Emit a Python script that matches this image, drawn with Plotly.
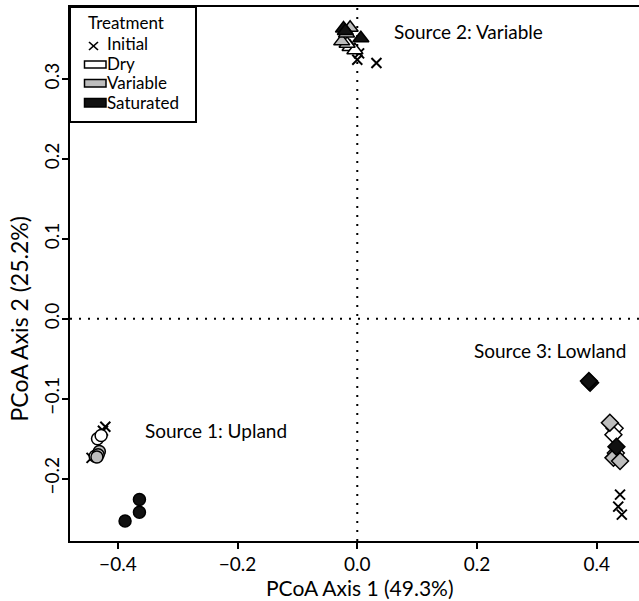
import plotly.graph_objects as go

# ---------------- data ----------------
treatments = ["Initial", "Dry", "Variable", "Saturated"]
sources = ["Source 1: Upland", "Source 2: Variable", "Source 3: Lowland"]

# Initial (x markers)
initial_x = [-0.421, -0.425, -0.444, 0.000, 0.032, 0.003, 0.439, 0.436, 0.442]
initial_y = [-0.135, -0.140, -0.174, 0.324, 0.320, 0.332, -0.220, -0.235, -0.245]
initial_src = [1, 1, 1, 2, 2, 2, 3, 3, 3]

# Dry (white fill)
dry_x = [-0.434, -0.428, -0.438, -0.012, -0.004, -0.017, 0.430, 0.428, 0.432]
dry_y = [-0.150, -0.146, -0.172, 0.340, 0.336, 0.344, -0.137, -0.145, -0.168]
dry_src = [1, 1, 1, 2, 2, 2, 3, 3, 3]

# Variable (grey fill)
var_x = [-0.431, -0.433, -0.435, -0.026, -0.012, -0.018, 0.422, 0.428, 0.439]
var_y = [-0.166, -0.170, -0.173, 0.347, 0.364, 0.357, -0.130, -0.174, -0.178]
var_src = [1, 1, 1, 2, 2, 2, 3, 3, 3]

# Saturated (black fill)
sat_x = [-0.364, -0.364, -0.388, -0.023, 0.006, -0.020, 0.389, 0.387, 0.433]
sat_y = [-0.226, -0.242, -0.253, 0.363, 0.351, 0.360, -0.080, -0.078, -0.160]
sat_src = [1, 1, 1, 2, 2, 2, 3, 3, 3]

x_ticks = [-0.4, -0.2, 0.0, 0.2, 0.4]
y_ticks = [-0.2, -0.1, 0.0, 0.1, 0.2, 0.3]

x_title = "PCoA Axis 1 (49.3%)"
y_title = "PCoA Axis 2 (25.2%)"
legend_title = "Treatment"

src_symbol = {1: "circle", 2: "triangle-up", 3: "diamond"}
src_size = {1: 12, 2: 14, 3: 13}
fill = {"Dry": "#ffffff", "Variable": "#bdbdbd", "Saturated": "#111111"}

FONT = "Lato, 'Liberation Sans', sans-serif"
FS = 19
LEG_FS = 17

XR = [-0.48, 0.4707]
YR = [-0.278, 0.39]

fig = go.Figure()

# Initial crosses
fig.add_trace(go.Scatter(
    x=initial_x, y=initial_y, mode="markers", showlegend=False,
    marker=dict(symbol="x-thin-open", size=10, color="black", opacity=1,
                line=dict(color="black", width=2)),
))

for name, xs, ys, ss in [("Dry", dry_x, dry_y, dry_src),
                         ("Variable", var_x, var_y, var_src),
                         ("Saturated", sat_x, sat_y, sat_src)]:
    fig.add_trace(go.Scatter(
        x=xs, y=ys, mode="markers", showlegend=False,
        marker=dict(symbol=[src_symbol[s] for s in ss],
                    size=[src_size[s] for s in ss],
                    color=fill[name], opacity=1,
                    line=dict(color="black", width=1.5)),
    ))

# plot-area geometry in pixels
L, R, T, B = 70, 639, 7, 541
W, H = R - L, B - T


def px(xp):
    return (xp - L) / W


def py(yp):
    return (B - yp) / H


shapes = []
# dotted reference lines
shapes.append(dict(type="line", xref="x", yref="paper", x0=0, x1=0, y0=0, y1=1,
                   line=dict(color="black", width=2, dash="2px,7px"), layer="below"))
shapes.append(dict(type="line", xref="paper", yref="y", x0=0, x1=1, y0=0, y1=0,
                   line=dict(color="black", width=2, dash="2px,7px"), layer="below"))

# legend box
shapes.append(dict(type="rect", xref="paper", yref="paper",
                   x0=px(70), x1=px(196), y0=py(122), y1=py(7),
                   line=dict(color="black", width=2), fillcolor="white"))
# legend cross
shapes.append(dict(type="line", xref="paper", yref="paper",
                   x0=px(89), x1=px(98), y0=py(42), y1=py(50),
                   line=dict(color="black", width=1.6)))
shapes.append(dict(type="line", xref="paper", yref="paper",
                   x0=px(89), x1=px(98), y0=py(50), y1=py(42),
                   line=dict(color="black", width=1.6)))
# legend swatches
for (y0, y1), name in zip([(61, 68), (79.5, 87), (98.5, 107)], ["Dry", "Variable", "Saturated"]):
    shapes.append(dict(type="rect", xref="paper", yref="paper",
                       x0=px(84.5), x1=px(106), y0=py(y1), y1=py(y0),
                       line=dict(color="black", width=1.5), fillcolor=fill[name]))

annotations = []
annotations.append(dict(xref="paper", yref="paper", x=px(86), y=py(22.5), text=legend_title,
                        xanchor="left", yanchor="middle", showarrow=False,
                        font=dict(family=FONT, size=LEG_FS, color="black")))
for name, yc in zip(treatments, [43, 63, 82.5, 102]):
    annotations.append(dict(xref="paper", yref="paper", x=px(105), y=py(yc), text=name,
                            xanchor="left", yanchor="middle", showarrow=False,
                            font=dict(family=FONT, size=LEG_FS, color="black")))

# source labels (placed in data units)
for text, xp, yp in [(sources[0], 143, 430), (sources[1], 392, 31), (sources[2], 472, 350)]:
    annotations.append(dict(xref="x", yref="y",
                            x=XR[0] + (xp - L) / W * (XR[1] - XR[0]),
                            y=YR[0] + (B - yp) / H * (YR[1] - YR[0]),
                            text=text, xanchor="left", yanchor="middle", showarrow=False,
                            font=dict(family=FONT, size=FS, color="black")))

# axis titles
annotations.append(dict(xref="paper", yref="paper", x=px(360), y=py(587), text=x_title,
                        xanchor="center", yanchor="middle", showarrow=False,
                        font=dict(family=FONT, size=21, color="black")))
annotations.append(dict(xref="paper", yref="paper", x=px(18), y=py(319.5), text=y_title,
                        xanchor="center", yanchor="middle", showarrow=False, textangle=-90,
                        font=dict(family=FONT, size=23, color="black")))


def fmt(v):
    return ("−" if v < 0 else "") + f"{abs(v):.1f}"


fig.update_layout(
    width=639, height=601,
    margin=dict(l=L, r=639 - R, t=T, b=601 - B, pad=0),
    paper_bgcolor="white", plot_bgcolor="white",
    shapes=shapes, annotations=annotations,
    font=dict(family=FONT, size=FS, color="black"),
    xaxis=dict(range=XR, tickvals=x_ticks, ticktext=[fmt(v) for v in x_ticks],
               showgrid=False, zeroline=False, showline=True, linecolor="black", linewidth=2,
               mirror=True, ticks="outside", ticklen=6, tickwidth=2, tickcolor="black",
               ticklabelstandoff=-1,
               tickfont=dict(family=FONT, size=FS, color="black")),
    yaxis=dict(range=YR, tickvals=y_ticks, ticktext=[fmt(v) for v in y_ticks],
               showgrid=False, zeroline=False, showline=True, linecolor="black", linewidth=2,
               mirror=False, ticks="outside", ticklen=6, tickwidth=2, tickcolor="black",
               tickangle=-90, ticklabelstandoff=-5,
               tickfont=dict(family=FONT, size=FS, color="black")),
)

fig.write_html("out.html")
